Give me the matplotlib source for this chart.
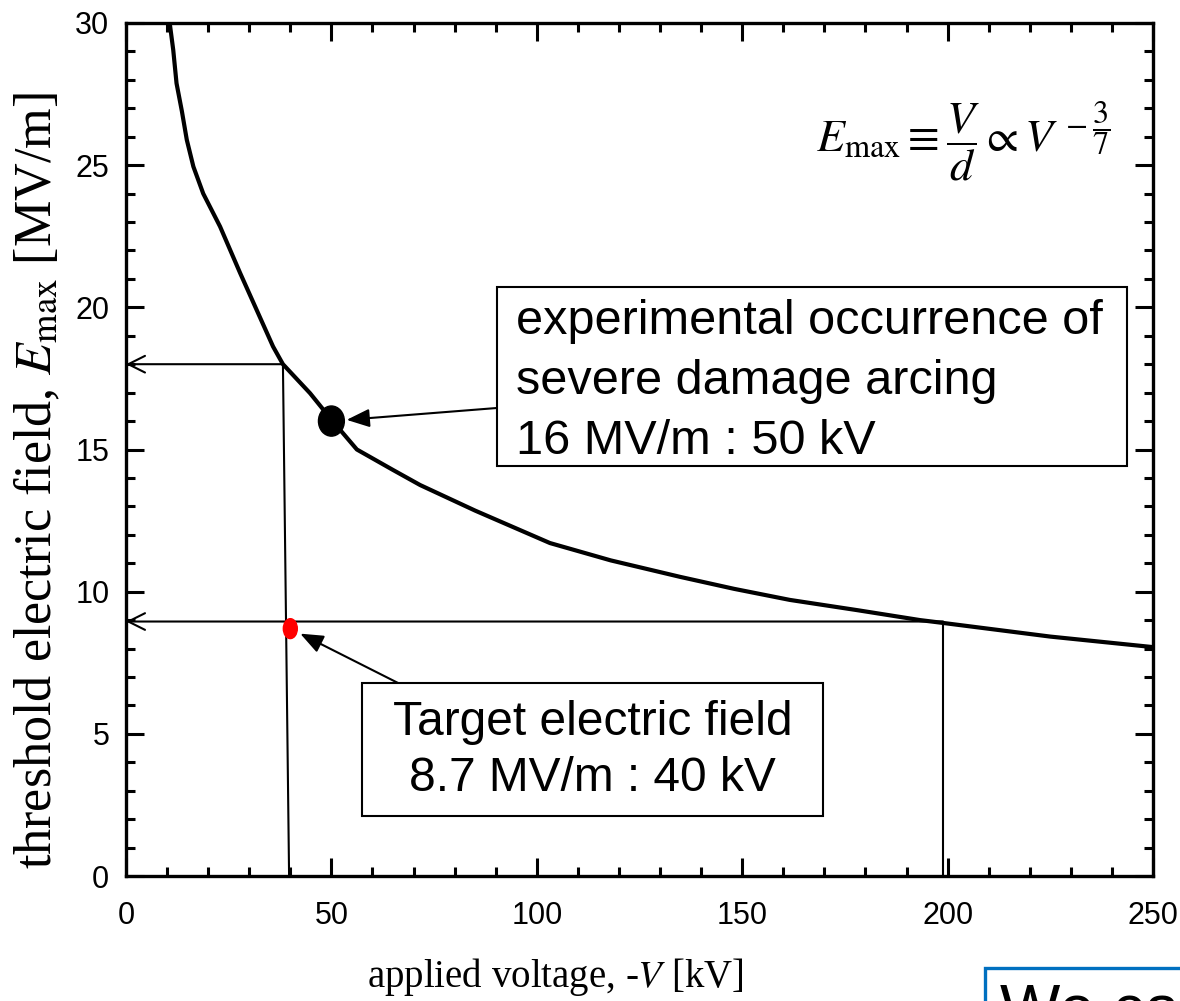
import matplotlib
matplotlib.use("Agg")
import matplotlib.pyplot as plt
from matplotlib.patches import Ellipse, Rectangle
from matplotlib.ticker import MultipleLocator

# Threshold field vs applied voltage
voltage_kv = [10.7, 11.5, 12.3, 13.6, 14.8, 16.4, 18.8, 22.9, 27.8, 31.8, 35.8,
              38.2, 44.8, 50.0, 56.2, 65.0, 71.6, 85.0, 103.2, 118.0, 134.9,
              148.0, 161.6, 178.0, 193.3, 198.9, 225.0, 250.0]
field_mvm = [29.93, 29.05, 27.88, 26.9, 25.89, 24.95, 24.0, 22.84, 21.2, 19.91, 18.62,
             18.0, 16.98, 16.05, 15.0, 14.28, 13.75, 12.85, 11.71, 11.1, 10.52,
             10.1, 9.71, 9.35, 9.0, 8.9, 8.42, 8.05]

# Guide lines: voltage where they leave the curve, where they reach the x axis, field level
guide_v_top = [38.2, 198.9]
guide_v_bottom = [39.7, 198.9]
guide_e = [18.0, 8.95]

# Marked points
arcing_kv, arcing_mvm = 50, 16
target_kv, target_mvm = 40, 8.7

plt.rcParams['mathtext.fontset'] = 'stix'
plt.rcParams['font.family'] = ['Liberation Sans', 'DejaVu Sans']
serif = ['Liberation Serif', 'DejaVu Serif']

fig = plt.figure(figsize=(11.8, 10.01), dpi=100)
ax = fig.add_axes([126 / 1180, 125 / 1001, 1027 / 1180, 853 / 1001])
ax.set_xlim(0, 250)
ax.set_ylim(0, 30)

# guide lines with open arrow heads at the field axis
for vt, vb, e in zip(guide_v_top, guide_v_bottom, guide_e):
    ax.plot([vt, vb], [e, 0], color='black', lw=1.5, zorder=2, clip_on=False)
    ax.annotate('', xy=(0, e), xytext=(vt, e),
                arrowprops=dict(arrowstyle='->,head_length=0.6,head_width=0.3',
                                lw=1.5, color='black', shrinkA=0, shrinkB=0,
                                mutation_scale=20), zorder=2)

ax.plot(voltage_kv, field_mvm, color='black', lw=3, zorder=3, solid_joinstyle='round')

# markers (slightly taller than wide)
ax.add_patch(Ellipse((arcing_kv, arcing_mvm), 6.3, 1.06, color='black', zorder=4))
ax.add_patch(Ellipse((target_kv, target_mvm), 3.4, 0.70, color='red', zorder=4))

# annotation boxes
ax.add_patch(Rectangle((90.3, 14.42), 153.4, 6.30, fill=True, fc='white',
                       ec='black', lw=1.5, zorder=5))
ax.text(94.9, 17.4, 'experimental occurrence of\nsevere damage arcing\n16 MV/m : 50 kV',
        fontsize=35, ha='left', va='center', linespacing=1.43, zorder=6)
ax.annotate('', xy=(arcing_kv, arcing_mvm), xytext=(90.3, 16.46),
            arrowprops=dict(arrowstyle='-|>,head_length=0.7,head_width=0.28',
                            lw=1.5, color='black', shrinkA=0, shrinkB=11,
                            mutation_scale=20), zorder=5)

ax.add_patch(Rectangle((57.4, 2.11), 112.3, 4.68, fill=True, fc='white',
                       ec='black', lw=1.5, zorder=5))
ax.text(113.6, 4.42, 'Target electric field\n8.7 MV/m : 40 kV',
        fontsize=34.5, ha='center', va='center', multialignment='center',
        linespacing=1.32, zorder=6)
ax.annotate('', xy=(target_kv, target_mvm), xytext=(66.2, 6.79),
            arrowprops=dict(arrowstyle='-|>,head_length=0.7,head_width=0.28',
                            lw=1.5, color='black', shrinkA=0, shrinkB=8,
                            mutation_scale=20), zorder=5)

# scaling relation
ax.text(168.0, 25.85,
        r'$E_{\mathrm{max}} \equiv \dfrac{V}{d} \propto V^{\,-\dfrac{3}{7}}$',
        fontsize=33, ha='left', va='center', zorder=6)

# axes styling
ax.xaxis.set_major_locator(MultipleLocator(50))
ax.xaxis.set_minor_locator(MultipleLocator(10))
ax.yaxis.set_major_locator(MultipleLocator(5))
ax.yaxis.set_minor_locator(MultipleLocator(1))
ax.tick_params(which='both', direction='in', top=True, right=True, width=2.2)
ax.tick_params(which='major', length=13)
ax.tick_params(which='minor', length=6.5)
ax.tick_params(axis='x', pad=18, labelsize=22)
ax.tick_params(axis='y', pad=12, labelsize=22)
for s in ax.spines.values():
    s.set_linewidth(2.4)

ax.set_xlabel('applied voltage, -$V$ [kV]', fontsize=28, family=serif)
ax.xaxis.set_label_coords(0.4177, -0.094)
ax.set_ylabel('threshold electric field, $E_{\\mathrm{max}}$ [MV/m]', fontsize=37.5, family=serif)
ax.yaxis.set_label_coords(-0.062, 0.464)

# slide text box peeking in at the bottom right corner
fig.patches.append(Rectangle((985 / 1180, -0.05), 0.3, 0.05 + 33 / 1001,
                             transform=fig.transFigure, fc='white',
                             ec='#0070C0', lw=2.4, zorder=10))
fig.text(1000 / 1180, 1 - 983 / 1001, 'We ca', fontsize=46, ha='left', va='top', zorder=11)

fig.savefig('out.png', dpi=100)
